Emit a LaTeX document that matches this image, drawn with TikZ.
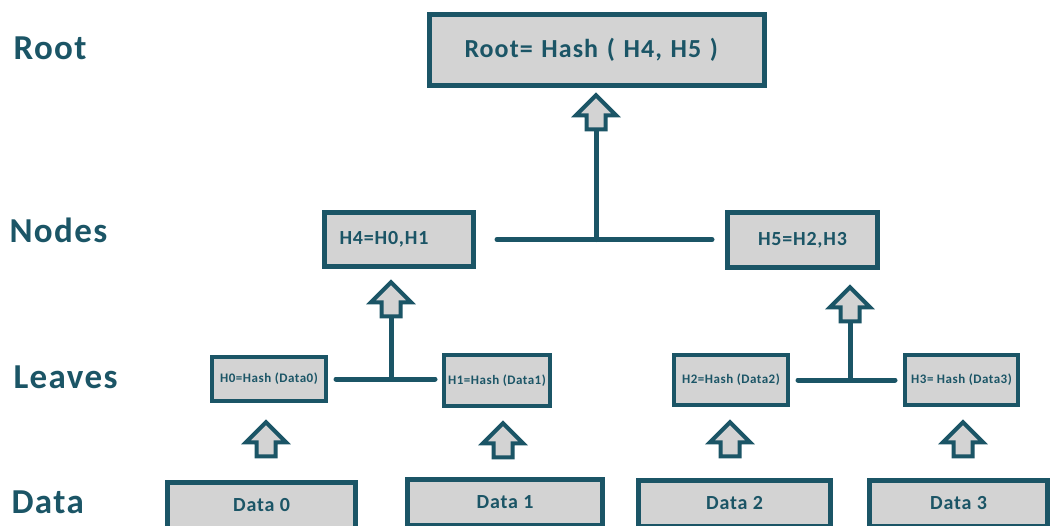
\documentclass[tikz,border=0pt]{standalone}
\usepackage{fontspec}
\setmainfont{Carlito}[LetterSpace=4]
\usepackage{tikz}
\usetikzlibrary{shapes.arrows, positioning}
\definecolor{merkle}{RGB}{27,85,102}
\definecolor{boxgray}{RGB}{211,211,211}
\tikzset{
    level/.style={anchor=west, text=merkle, font=\bfseries\fontsize{35}{40}\selectfont},
    hashbox/.style={rectangle, draw=merkle, fill=boxgray, line width=5pt, inner sep=0pt, text=merkle, text centered},
    rootbox/.style={hashbox, minimum width=335pt, minimum height=71pt, font=\bfseries\fontsize{26}{30}\selectfont},
    nodebox/.style={hashbox, minimum height=54pt, font=\bfseries\fontsize{20}{24}\selectfont},
    leafbox/.style={hashbox, line width=4pt, font=\bfseries\fontsize{13}{15}\selectfont},
    databox/.style={hashbox, minimum height=46pt, font=\bfseries\fontsize{20}{24}\selectfont},
    uparrow/.style={single arrow, shape border rotate=90, draw=merkle, fill=boxgray, line width=4pt, inner sep=7.5pt, minimum height=34pt, single arrow head extend=10.5pt},
    link/.style={draw=merkle, line width=5pt, line cap=round}
}

\begin{document}
\begin{tikzpicture}[x=1pt, y=-1pt]
\clip (0,0) rectangle (1052,525);

% Level labels
\node (lroot) [level] at (10,48) {Root};
\node (lnodes) [level] at (6,230) {Nodes};
\node (lleaves) [level] at (10,377) {Leaves};
\node (ldata) [level] at (8,502) {Data};

% Hash boxes
\node (root) [rootbox, text width=265pt, inner xsep=35pt, align=left] at (597,50) {Root= Hash ( H4, H5 )};
\node (h4) [nodebox, minimum width=149pt, text width=119pt, inner xsep=15pt, align=left] at (399,239.5) {H4=H0,H1};
\node (h5) [nodebox, minimum width=150pt, minimum height=55pt] at (802.5,240) {H5=H2,H3};
\node (h0) [leafbox, minimum width=114pt, minimum height=44pt] at (269,379) {H0=Hash (Data0)};
\node (h1) [leafbox, minimum width=106pt, minimum height=51pt] at (497,380.5) {H1=Hash (Data1)};
\node (h2) [leafbox, minimum width=114pt, minimum height=50pt] at (731,380) {H2=Hash (Data2)};
\node (h3) [leafbox, minimum width=113pt, minimum height=50pt] at (961.5,380) {H3= Hash (Data3)};

% Data blocks
\node (d0) [databox, minimum width=188pt] at (261.5,505.5) {Data 0};
\node (d1) [databox, minimum width=195pt] at (505,502.5) {Data 1};
\node (d2) [databox, minimum width=192pt] at (734.5,503.5) {Data 2};
\node (d3) [databox, minimum width=178pt] at (958.5,503.5) {Data 3};

% Block arrows
\node (uproot) [uparrow] at (596,117) {};
\node (up4) [uparrow] at (391,304) {};
\node (up5) [uparrow] at (850,309) {};
\node (up0) [uparrow] at (266,444) {};
\node (up1) [uparrow] at (503,445) {};
\node (up2) [uparrow] at (730,444) {};
\node (up3) [uparrow] at (963,444) {};

% Joining lines
\draw [link, shorten <=21pt, shorten >=13pt] (h4.east) -- (h4.east -| h5.west);
\draw [link] (uproot.south) -- (uproot.south |- h4.east);
\draw [link, shorten <=8pt, shorten >=7pt] (h0.east) -- (h0.east -| h1.west);
\draw [link] (up4.south) -- (up4.south |- h0.east);
\draw [link, shorten <=8pt, shorten >=8pt] (h2.east) -- (h2.east -| h3.west);
\draw [link] (up5.south) -- (up5.south |- h2.east);

\end{tikzpicture}
\end{document}
